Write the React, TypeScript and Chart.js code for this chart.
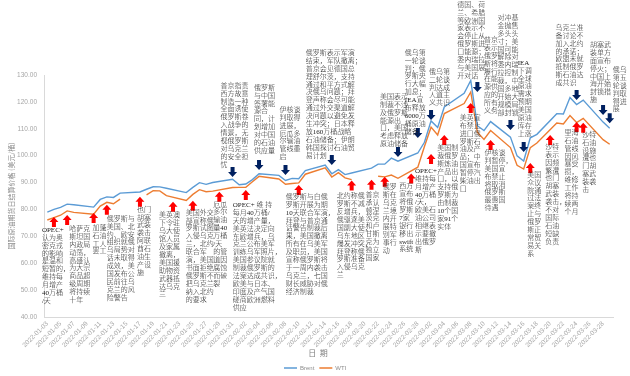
import React, { useEffect, useRef } from 'react';
import { Chart, registerables } from 'chart.js';

Chart.register(...registerables);

// ---------- data ----------
const dates = [
  '2022-01-03', '2022-01-04', '2022-01-05', '2022-01-06', '2022-01-07', '2022-01-10', '2022-01-11',
  '2022-01-12', '2022-01-13', '2022-01-14', '2022-01-17', '2022-01-18', '2022-01-19', '2022-01-20',
  '2022-01-21', '2022-01-24', '2022-01-25', '2022-01-26', '2022-01-27', '2022-01-28', '2022-01-31',
  '2022-02-01', '2022-02-02', '2022-02-03', '2022-02-04', '2022-02-07', '2022-02-08', '2022-02-09',
  '2022-02-10', '2022-02-11', '2022-02-14', '2022-02-15', '2022-02-16', '2022-02-17', '2022-02-18',
  '2022-02-21', '2022-02-22', '2022-02-23', '2022-02-24', '2022-02-25', '2022-02-28',
  '2022-03-01', '2022-03-02', '2022-03-03', '2022-03-04', '2022-03-07', '2022-03-08', '2022-03-09',
  '2022-03-10', '2022-03-11', '2022-03-14', '2022-03-15', '2022-03-16', '2022-03-17', '2022-03-18',
  '2022-03-21', '2022-03-22', '2022-03-23', '2022-03-24', '2022-03-25', '2022-03-28', '2022-03-29',
];

const brent = [
  78.98, 80.0, 80.8, 81.99, 81.75, 80.87, 83.72, 84.67, 84.47, 86.06, 86.48, 87.51, 88.44, 88.38,
  87.89, 86.27, 88.2, 89.96, 89.34, 90.03, 91.21,
  89.16, 89.47, 91.11, 93.27, 92.69, 90.78, 91.55, 91.41, 94.44, 96.48, 93.28, 94.81, 92.97, 93.54,
  95.39, 96.84, 96.84, 99.08, 97.93, 100.99,
  104.97, 112.93, 110.46, 118.11, 123.21, 127.98, 111.14, 109.33, 112.67, 106.9, 99.91, 98.02,
  106.64, 107.93, 115.62, 115.48, 121.6, 119.03, 120.65, 112.48, 110.23,
];

const wti = [
  76.08, 76.99, 77.85, 79.46, 78.9, 78.23, 81.22, 82.64, 82.12, 83.82, null, 85.43, 86.96, 86.9,
  85.14, 83.31, 85.6, 87.35, 86.61, 86.82, 88.15,
  88.2, 88.26, 90.27, 92.31, 91.32, 89.36, 89.66, 89.88, 93.1, 95.46, 92.07, 93.66, 91.76, 91.07,
  null, 92.35, 92.1, 92.81, 91.59, 95.72,
  103.41, 110.6, 107.67, 115.68, 119.4, 123.7, 108.7, 106.02, 109.33, 103.01, 96.44, 95.04,
  102.98, 104.7, 112.12, 111.76, 114.93, 112.34, 113.9, 105.96, 104.24,
];

const tickDates = [
  '2022-01-03', '2022-01-05', '2022-01-07', '2022-01-09', '2022-01-11', '2022-01-13', '2022-01-15',
  '2022-01-17', '2022-01-19', '2022-01-21', '2022-01-23', '2022-01-25', '2022-01-27', '2022-01-29',
  '2022-01-31', '2022-02-02', '2022-02-04', '2022-02-06', '2022-02-08', '2022-02-10', '2022-02-12',
  '2022-02-14', '2022-02-16', '2022-02-18', '2022-02-20', '2022-02-22', '2022-02-24', '2022-02-26',
  '2022-02-28', '2022-03-02', '2022-03-04', '2022-03-06', '2022-03-08', '2022-03-10', '2022-03-12',
  '2022-03-14', '2022-03-16', '2022-03-18', '2022-03-20', '2022-03-22', '2022-03-24', '2022-03-26',
  '2022-03-28',
];

const seriesNames = ['Brent', 'WTI'];
const seriesColors = ['#5B9BD5', '#ED7D31'];
const yTitle = '国际原油期货日结算价格 (美元/桶)';
const xTitle = '日  期';

// annotations: arrow tip at (date, price); text offset in px from arrow
type Note = { date: string; at: number; dir: 'up' | 'down' | 'none'; dx: number; dy: number; lines: string[] };

const notes: Note[] = [
  { date: '2022-01-04', at: 77.2, dir: 'up', dx: -12, dy: 13, lines: ['OPEC+', '认为奥', '密克戎', '的影响', '是温和', '短暂的，', '维持每', '月增产', '40万桶', '/天'] },
  { date: '2022-01-06', at: 77.9, dir: 'up', dx: 2, dy: 14, lines: ['哈萨克', '斯坦国', '内政局', '动荡，', '高盛认', '为大宗', '商品超', '级周期', '将持续', '十年'] },
  { date: '2022-01-10', at: 78.7, dir: 'up', dx: -1, dy: 15, lines: ['加蓬', '石油', '工人', '罢工'] },
  { date: '2022-01-12', at: 81.7, dir: 'up', dx: 0, dy: 14, lines: ['俄罗斯与', '美国、北', '约、欧安', '组织就俄', '乌局势对', '话未取得', '成效，美', '国发布公', '民前往乌', '克兰的风', '险警告'] },
  { date: '2022-01-17', at: 84.7, dir: 'up', dx: -3, dy: 13, lines: ['也门', '胡塞', '武装', '袭击', '阿联', '酋石', '油生', '产设', '施'] },
  { date: '2022-01-22', at: 82.9, dir: 'up', dx: -14, dy: 14, lines: ['美英澳', '下令驻', '乌大使', '馆人员', '及家属', '撤离，', '美国援', '助物资', '武器抵', '达乌克', '兰'] },
  { date: '2022-01-25', at: 83.2, dir: 'up', dx: -7, dy: 12, lines: ['美国外交', '部宣称俄', '罗斯试图', '入侵乌克', '兰，北约', '联合军', '演，美国', '书面拒绝', '俄罗斯不', '把乌克兰', '纳入北约', '的要求'] },
  { date: '2022-01-29', at: 86.6, dir: 'up', dx: -6, dy: 13, lines: ['厄瓜', '多尔', '输油', '量40', '万桶', '/天', '的管', '道因', '腐蚀', '而破', '裂'] },
  { date: '2022-02-02', at: 87.2, dir: 'up', dx: -13, dy: 15, lines: ['OPEC+ 维 持', '每月40万桶/', '天的增产量，', '美英法决定向', '东欧增兵，乌', '克兰公布美军', '训练乌军照片，', '美国参议院就', '制裁俄罗斯的', '法案达成共识，', '欧美与日本、', '印度及产气国', '磋商欧洲燃料', '供应'] },
  { date: '2022-02-10', at: 89.1, dir: 'up', dx: -13, dy: 12, lines: ['俄罗斯与白俄', '罗斯开展为期', '10天联合军演，', '拜登与普京通', '话警告制裁后', '果，美国撤离', '所有在乌美军', '及职员，美国', '宣称俄罗斯将', '于一周内袭击', '乌克兰，七国', '财长威胁对俄', '经济制裁'] },
  { date: '2022-02-18', at: 90.8, dir: 'up', dx: -15, dy: 16, lines: ['北约称俄', '罗斯不减', '反增兵，', '俄驱逐美', '国副大使，', '乌东地区', '爆发冲突，', '拜登称俄', '罗斯准备', '入侵乌克', '兰'] },
  { date: '2022-02-21', at: 91.0, dir: 'up', dx: -6, dy: 15, lines: ['普京', '承认', '顿涅', '茨克', '和卢', '甘斯', '克为', '独立', '国家'] },
  { date: '2022-02-23', at: 92.2, dir: 'up', dx: -2, dy: 11, lines: ['俄罗', '斯在', '乌克', '兰境', '内开', '展特', '别军', '事行', '动'] },
  { date: '2022-02-27', at: 93.4, dir: 'up', dx: -12, dy: 13, lines: ['西方', '宣布', '将俄', '罗斯', '7家', '银行', '移出', 'swift', '系统'] },
  { date: '2022-03-02', at: 100.6, dir: 'up', dx: -16, dy: 17, lines: ['OPEC+', '维持每', '月增产', '40万桶', '/天，', '欧美石', '油公司', '相继表', '示要撤', '出俄罗', '斯'] },
  { date: '2022-03-04', at: 107.7, dir: 'up', dx: -7, dy: 13, lines: ['美国制', '裁俄罗', '斯炼油', '产品出', '口，以', '支持俄', '罗斯为', '由制裁', '10个国', '家91个', '实体'] },
  { date: '2022-03-08', at: 119.6, dir: 'up', dx: -11, dy: 15, lines: ['美英宣', '布禁止', '进口俄', '罗斯石', '油及产', '品；中', '国宣布', '暂停汽', '柴油出', '口'] },
  { date: '2022-03-11', at: 105.8, dir: 'up', dx: -6, dy: 13, lines: ['伊核谈', '判暂停，', '美国宣', '布禁止', '将取消', '俄罗斯', '最惠国', '待遇'] },
  { date: '2022-03-17', at: 97.3, dir: 'up', dx: -3, dy: 12, lines: ['美国', '众议', '院通', '过法', '案终', '止与', '俄罗', '斯正', '常贸', '易关', '系'] },
  { date: '2022-03-20', at: 107.7, dir: 'up', dx: -5, dy: 12, lines: ['沙特', '表示', '因频', '繁遭', '也门', '胡塞', '武装', '袭击，', '不对', '国际', '石油', '短缺', '负责'] },
  { date: '2022-03-24', at: 112.5, dir: 'up', dx: -12, dy: 11, lines: ['里海', '石油', '管线', '因风', '暴受', '损，', '维修', '工作', '将持', '续两', '个月'] },
  { date: '2022-03-25', at: 112.2, dir: 'up', dx: -1, dy: 12, lines: ['沙特', '石油', '设施', '遭也', '门胡', '塞武', '装袭', '击'] },

  { date: '2022-01-31', at: 92.1, dir: 'down', dx: -12, dy: -91, lines: ['普京指责', '西方故意', '制造一种', '全面诱使', '俄罗斯卷', '入战争的', '情景，无', '视俄罗斯', '对乌克兰', '的安全担', '忧'] },
  { date: '2022-02-04', at: 94.7, dir: 'down', dx: -5, dy: -82, lines: ['俄罗斯', '与中国', '签署能', '源合', '同，计', '划增加', '对中国', '的石油', '供应量'] },
  { date: '2022-02-08', at: 92.8, dir: 'down', dx: -6, dy: -65, lines: ['伊核谈', '判取得', '进展，', '厄瓜多', '尔输油', '管线重', '启'] },
  { date: '2022-02-15', at: 96.5, dir: 'down', dx: -26, dy: -112, lines: ['俄罗斯表示军演', '结束，军队撤离；', '普京会见德国总', '理舒尔茨，支持', '通过和平方式解', '决俄乌问题；拜', '登声称会尽可能', '通过外交渠道解', '决问题以避免发', '生冲突；日本释', '放160万桶战略', '石油储备；伊朗', '韩国探讨石油贸', '易计划'] },
  { date: '2022-02-25', at: 99.5, dir: 'down', dx: -18, dy: -60, lines: ['美国表示', '制裁不涉', '及俄罗斯', '能源出', '口，美国', '考虑释放', '原油储备'] },
  { date: '2022-02-28', at: 106.6, dir: 'down', dx: -13, dy: -85, lines: ['俄乌第', '一轮谈', '判；俄', '罗斯央', '行大幅', '加息；', 'IEA宣', '布释放', '6000万', '桶原油', '储备'] },
  { date: '2022-03-02', at: 113.3, dir: 'down', dx: -2, dy: -48, lines: ['俄乌第', '二轮谈', '判达成', '人道主', '义共识'] },
  { date: '2022-03-09', at: 123.7, dir: 'down', dx: -20, dy: -87, lines: ['德国、荷', '兰、希腊', '等欧洲国', '家表示不', '会停止从', '俄罗斯进', '口能源；', '委内瑞拉', '与美国展', '开对话'] },
  { date: '2022-03-10', at: 115.1, dir: 'none', dx: 0, dy: -75, lines: ['普京', '表示', '俄罗', '斯将', '履行', '在能', '源供', '应的', '所有', '义务'] },
  { date: '2022-03-14', at: 109.5, dir: 'down', dx: -13, dy: -112, lines: ['对冲基', '金抛售', '多头头', '寸；美', '国可能', '解除对', '委内瑞', '拉控制', '裁，中', '国多地', '开始大', '规模局', '部封锁'] },
  { date: '2022-03-16', at: 101.4, dir: 'down', dx: -6, dy: -89, lines: ['IEA', '下调', '全球', '原油', '需求', '预期', '美国', '原油', '库存', '上涨'] },
  { date: '2022-03-24', at: 120.7, dir: 'down', dx: -21, dy: -72, lines: ['乌克兰准', '备讨论不', '加入北约', '的承诺；', '欧盟未就', '抵制俄罗', '斯石油达', '成共识'] },
  { date: '2022-03-28', at: 115.1, dir: 'down', dx: -13, dy: -70, lines: ['胡塞武', '装单方', '面宣布', '停火；', '中国上', '海开始', '封锁措', '施'] },
  { date: '2022-03-29', at: 112.1, dir: 'down', dx: 3, dy: -53, lines: ['俄乌', '第五', '轮谈', '判取', '得进', '展'] },
];

// ---------- helpers ----------
const T0 = Date.UTC(2022, 0, 3);
const dayIndex = (s: string) => {
  const [y, m, d] = s.split('-').map(Number);
  return Math.round((Date.UTC(y, m - 1, d) - T0) / 86400000);
};
const tickLabelMap = new Map<number, string>(tickDates.map((s) => [dayIndex(s), s]));

const NOTE_FONT = '300 7px "Liberation Serif", "Noto Sans CJK SC", serif';
const LINE_H = 7.9;
const AXIS_GRAY = '#8c8c8c';

const drawArrow = (ctx: CanvasRenderingContext2D, x: number, tip: number, dir: 'up' | 'down') => {
  const s = dir === 'up' ? 1 : -1;
  ctx.beginPath();
  ctx.moveTo(x, tip);
  ctx.lineTo(x + 4.5, tip + s * 5);
  ctx.lineTo(x + 2, tip + s * 5);
  ctx.lineTo(x + 2, tip + s * 10);
  ctx.lineTo(x - 2, tip + s * 10);
  ctx.lineTo(x - 2, tip + s * 5);
  ctx.lineTo(x - 4.5, tip + s * 5);
  ctx.closePath();
  ctx.fillStyle = dir === 'up' ? '#FF0000' : '#002060';
  ctx.fill();
};

const decorPlugin = {
  id: 'decor',
  afterDraw(chart: any) {
    const { ctx, scales } = chart;
    const xs = scales.x;
    const ys = scales.y;
    ctx.save();
    // annotations
    for (const n of notes) {
      const x = xs.getPixelForValue(dayIndex(n.date));
      const tip = ys.getPixelForValue(n.at);
      if (n.dir !== 'none') drawArrow(ctx, x, tip, n.dir);
      ctx.font = NOTE_FONT;
      ctx.fillStyle = '#1a1a1a';
      ctx.textAlign = 'left';
      ctx.textBaseline = 'middle';
      n.lines.forEach((line, i) => {
        ctx.fillText(line, x + n.dx, tip + n.dy + i * LINE_H);
      });
    }
    // y title
    ctx.save();
    ctx.translate(11, (chart.chartArea.top + chart.chartArea.bottom) / 2);
    ctx.rotate(-Math.PI / 2);
    ctx.font = '7px "Noto Sans CJK SC", sans-serif';
    ctx.fillStyle = AXIS_GRAY;
    ctx.textAlign = 'center';
    ctx.textBaseline = 'middle';
    ctx.fillText(yTitle, 0, 0);
    ctx.restore();
    // x title
    ctx.font = '8px "Noto Sans CJK SC", sans-serif';
    ctx.fillStyle = '#7f7f7f';
    ctx.textAlign = 'center';
    ctx.textBaseline = 'middle';
    ctx.fillText(xTitle, 318, 353);
    // legend
    ctx.font = '6px "Liberation Sans", sans-serif';
    ctx.textAlign = 'left';
    let lx = 284;
    seriesNames.forEach((name, i) => {
      ctx.strokeStyle = seriesColors[i];
      ctx.lineWidth = 1.5;
      ctx.beginPath();
      ctx.moveTo(lx, 368);
      ctx.lineTo(lx + 13, 368);
      ctx.stroke();
      ctx.fillStyle = AXIS_GRAY;
      ctx.fillText(name, lx + 16, 368.5);
      lx += 16 + ctx.measureText(name).width + 5;
    });
    ctx.restore();
  },
};

export default function App() {
  const ref = useRef<HTMLCanvasElement>(null);
  useEffect(() => {
    const toPts = (vals: (number | null)[]) => dates.map((d, i) => ({ x: dayIndex(d), y: vals[i] }));
    const chart = new Chart(ref.current as HTMLCanvasElement, {
      type: 'line',
      data: {
        datasets: [
          { label: seriesNames[0], data: toPts(brent) as any, borderColor: seriesColors[0], borderWidth: 1.4, pointRadius: 0, tension: 0, spanGaps: false },
          { label: seriesNames[1], data: toPts(wti) as any, borderColor: seriesColors[1], borderWidth: 1.4, pointRadius: 0, tension: 0, spanGaps: false },
        ],
      },
      options: {
        animation: false,
        responsive: false,
        events: [],
        layout: { padding: { top: 75, right: 17, left: 0, bottom: 0 } },
        scales: {
          x: {
            type: 'linear',
            min: -0.5,
            max: 85.5,
            grid: { display: false, drawTicks: false },
            border: { display: true, color: '#d9d9d9' },
            afterBuildTicks: (s: any) => {
              s.ticks = tickDates.map((d) => ({ value: dayIndex(d) }));
            },
            afterFit: (s: any) => {
              s.height = 59;
            },
            ticks: {
              autoSkip: false,
              minRotation: 45,
              maxRotation: 45,
              padding: 3,
              color: '#a6a6a6',
              font: { size: 6.5, family: '"Liberation Sans", sans-serif' },
              callback: (v: any) => tickLabelMap.get(Number(v)) ?? '',
            },
          },
          y: {
            min: 40,
            max: 130,
            grid: { display: false, drawTicks: false },
            border: { display: true, color: '#d9d9d9' },
            afterFit: (s: any) => {
              s.width = 44;
            },
            ticks: {
              stepSize: 10,
              padding: 7,
              color: '#a6a6a6',
              font: { size: 6.5, family: '"Liberation Sans", sans-serif' },
              callback: (v: any) => Number(v).toFixed(2),
            },
          },
        },
        plugins: { legend: { display: false }, tooltip: { enabled: false } },
      },
      plugins: [decorPlugin],
    });
    return () => chart.destroy();
  }, []);
  return (
    <div style={{ position: 'fixed', left: 0, top: 0, width: 630, height: 376, background: '#fff' }}>
      <canvas ref={ref} width={630} height={376} style={{ display: 'block', width: 630, height: 376 }} />
    </div>
  );
}
